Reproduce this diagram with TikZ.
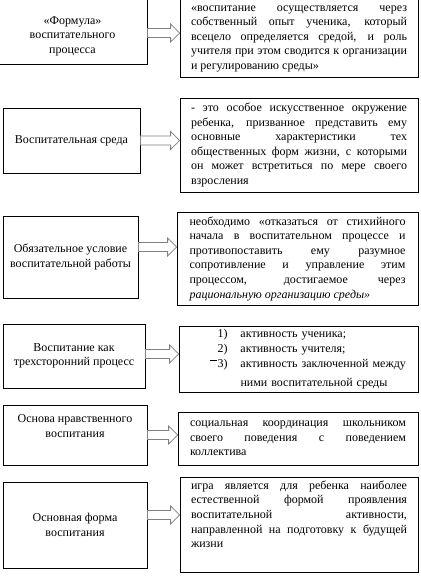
\documentclass[tikz,border=0pt]{standalone}
\usepackage{fontspec}
\setmainfont{Liberation Serif}
\usetikzlibrary{calc}
\newcommand{\hollowarrow}[3]{%
  \draw[arrowline] ($(#1.east)+(0,#3+4.5)$) -- ($(#2.west |- #1.east)+(-9,#3+4.5)$)
    -- ($(#2.west |- #1.east)+(-9,#3+9)$) -- ($(#2.west |- #1.east)+(0,#3)$)
    -- ($(#2.west |- #1.east)+(-9,#3-9)$) -- ($(#2.west |- #1.east)+(-9,#3-4.5)$)
    -- ($(#1.east)+(0,#3-4.5)$) -- cycle;}
\begin{document}
\begin{tikzpicture}[x=1pt,y=-1pt,
    box/.style={draw, line width=0.8pt, font=\rmfamily\fontsize{12}{14.6}\selectfont},
    leftbox/.style={box, align=center, inner sep=2pt},
    rightbox/.style={box, align=justify, text width=216pt, inner xsep=11pt, minimum width=238pt},
    arrowline/.style={draw=black!50, fill=white, line width=0.8pt, line join=miter}]
    \useasboundingbox (0,0) rectangle (420,580);
    \fill[white] (0,0) rectangle (420,580);
    \node[leftbox, minimum width=149pt, minimum height=72pt] (formula) at (72.5,28)
        {\mbox{}\\[9.4pt]«Формула»\\воспитательного\\процесса};
    \node[rightbox, minimum height=85pt] (formulatext) at (299,34.5)
        {\mbox{}\\[-0.6pt]«воспитание осуществляется через\linebreak собственный опыт ученика, который\linebreak
         всецело определяется средой, и роль\linebreak учителя при этом сводится к организации\linebreak
         и регулированию среды»};
    \node[leftbox, minimum width=137pt, minimum height=65pt] (sreda) at (71.5,140.5)
        {Воспитательная среда};
    \node[rightbox, minimum height=94pt] (sredatext) at (299,145)
        {- это особое искусственное окружение\linebreak ребенка, призванное представить ему\linebreak
         основные характеристики тех\linebreak общественных форм жизни, с которыми\linebreak
         он может встретиться по мере своего\linebreak взросления};
    \node[leftbox, minimum width=135pt, minimum height=82pt] (uslovie) at (70.5,257)
        {Обязательное условие\\воспитательной работы};
    \node[rightbox, minimum width=241pt, minimum height=93pt] (usloviecontent) at (297.5,258.5)
        {необходимо «отказаться от стихийного\linebreak начала в воспитательном процессе и\linebreak
         противопоставить ему разумное\linebreak сопротивление и управление этим\linebreak
         процессом, достигаемое через\linebreak \textit{рациональную организацию среды»}};
    \node[leftbox, minimum width=142pt, minimum height=64pt] (process) at (74,356)
        {Воспитание как\\трехсторонний процесс};
    \node[rightbox, align=left, minimum width=239pt, minimum height=65pt] (processtext) at (298.5,359.5)
        {\makebox[37pt][r]{1)}\hspace{13pt}активность ученика;\\
         \makebox[37pt][r]{2)}\hspace{13pt}активность учителя;\\
         \makebox[37pt][r]{\raisebox{7pt}{\rule{7pt}{0.6pt}}\hspace{1pt}3)}\hspace{13pt}активность заключенной между\\[5pt]
         \hspace*{50pt}ними воспитательной среды};
    \node[leftbox, minimum width=144pt, minimum height=60pt] (osnova) at (75,435)
        {Основа нравственного\\воспитания\\[3pt]\mbox{}};
    \node[rightbox, minimum width=240pt, minimum height=53pt] (osnovatext) at (298,438.5)
        {социальная координация школьником\linebreak своего поведения с поведением\linebreak коллектива};
    \node[leftbox, minimum width=144pt, minimum height=86pt] (forma) at (75,525)
        {Основная форма\\воспитания};
    \node[rightbox, minimum height=86pt] (formatext) at (299,525)
        {игра является для ребенка наиболее\linebreak естественной формой проявления\linebreak
         воспитательной активности,\linebreak направленной на подготовку к будущей\linebreak
         жизни\\[7pt]\mbox{}};
    \hollowarrow{formula}{formulatext}{5}
    \hollowarrow{sreda}{sredatext}{0}
    \hollowarrow{uslovie}{usloviecontent}{-10}
    \hollowarrow{process}{processtext}{-2}
    \hollowarrow{osnova}{osnovatext}{0}
    \hollowarrow{forma}{formatext}{-10}
\end{tikzpicture}
\end{document}
